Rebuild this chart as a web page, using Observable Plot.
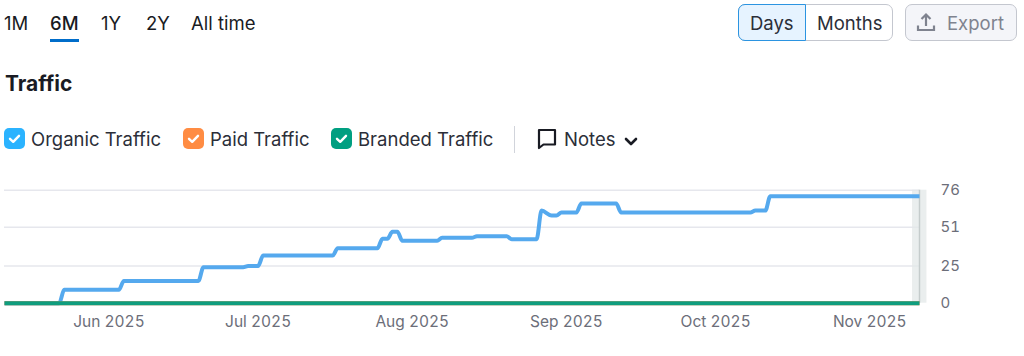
<!DOCTYPE html>
<html>
<head>
<meta charset="utf-8">
<script src="https://cdn.jsdelivr.net/npm/d3@7"></script>
<script src="https://cdn.jsdelivr.net/npm/@observablehq/plot@0.6"></script>
<style>
html,body{margin:0;padding:0;background:#fff;width:1024px;height:356px;overflow:hidden;font-family:Inter,"Noto Sans",sans-serif;color:#191b23;}
#wrap{position:relative;width:1024px;height:356px;}
.t{position:absolute;white-space:nowrap;line-height:24px;font-size:18.5px;transform:translateY(-50%);}
.box{position:absolute;box-sizing:border-box;}
.cb{position:absolute;width:21px;height:21px;top:127.5px;border-radius:5px;}
.cb svg,.ic{position:absolute;left:0;top:0;}
#chart{position:absolute;left:0;top:170px;}
#chart svg{display:block;overflow:visible;}
</style>
</head>
<body>
<div id="wrap">
  <span class="t" style="left:4px;top:22.5px">1M</span>
  <span class="t" style="left:50px;top:22.5px;font-weight:500">6M</span>
  <span class="t" style="left:101px;top:22.5px">1Y</span>
  <span class="t" style="left:146px;top:22.5px">2Y</span>
  <span class="t" style="left:191px;top:22.5px">All time</span>
  <div class="box" style="left:50px;top:39px;width:29px;height:3px;background:#006dca"></div>

  <span class="t" style="left:5px;top:83.5px;font-weight:700;font-size:21px">Traffic</span>

  <div class="cb" style="left:4px;background:#2bb3ff"><svg width="21" height="21"><path d="M6 10.8l3.2 3L15 7.8" fill="none" stroke="#fff" stroke-width="2.4" stroke-linecap="round" stroke-linejoin="round"/></svg></div>
  <span class="t" style="left:31px;top:139px;color:#2b2e38">Organic Traffic</span>
  <div class="cb" style="left:183px;background:#ff8c43"><svg width="21" height="21"><path d="M6 10.8l3.2 3L15 7.8" fill="none" stroke="#fff" stroke-width="2.4" stroke-linecap="round" stroke-linejoin="round"/></svg></div>
  <span class="t" style="left:210px;top:139px;color:#2b2e38">Paid Traffic</span>
  <div class="cb" style="left:331px;background:#009f81"><svg width="21" height="21"><path d="M6 10.8l3.2 3L15 7.8" fill="none" stroke="#fff" stroke-width="2.4" stroke-linecap="round" stroke-linejoin="round"/></svg></div>
  <span class="t" style="left:358px;top:139px;color:#2b2e38">Branded Traffic</span>
  <div class="box" style="left:514px;top:126px;width:1px;height:27px;background:#d1d4db"></div>
  <svg class="ic" style="left:537px;top:128px" width="20" height="22"><path d="M2 2h16v14.5H6.500L2 20z" fill="none" stroke="#191b23" stroke-width="2.200" stroke-linejoin="round"/></svg>
  <span class="t" style="left:564px;top:138.5px;color:#2b2e38">Notes</span>
  <svg class="ic" style="left:623px;top:135px" width="16" height="12"><path d="M3 4l5 5 5-5" fill="none" stroke="#191b23" stroke-width="2.600" stroke-linecap="round" stroke-linejoin="round"/></svg>

  <div class="box" style="left:738px;top:4px;width:155px;height:37px;border:1px solid #c4c7cf;border-radius:7px;background:#fff"></div>
  <div class="box" style="left:738px;top:4px;width:68px;height:37px;border:1px solid #2b94e1;border-radius:7px 0 0 7px;background:#e6f3ff"></div>
  <span class="t" style="left:750px;top:22.5px;color:#2b2e38">Days</span>
  <span class="t" style="left:817px;top:22.5px;color:#2b2e38">Months</span>
  <div class="box" style="left:905px;top:4px;width:112px;height:37px;border:1px solid #c4c7cf;border-radius:7px;background:#f4f5f9"></div>
  <svg class="ic" style="left:916px;top:12px" width="20" height="20"><path d="M10 14V3M5.500 7L10 2.500 14.500 7M2 13.500V18h16v-4.500" fill="none" stroke="#7f838f" stroke-width="2.200"/></svg>
  <span class="t" style="left:947px;top:22.5px;color:#7f838f">Export</span>

  <div id="chart"></div>
</div>
<script>
const organicDates = ["2025-05-11","2025-05-22","2025-05-23","2025-06-03","2025-06-04","2025-06-19","2025-06-20","2025-06-28","2025-06-29","2025-07-01","2025-07-02","2025-07-16","2025-07-17","2025-07-25","2025-07-26","2025-07-27","2025-07-28","2025-07-29","2025-07-30","2025-08-06","2025-08-07","2025-08-13","2025-08-14","2025-08-20","2025-08-21","2025-08-26","2025-08-27","2025-08-29","2025-08-30","2025-08-31","2025-09-03","2025-09-04","2025-09-11","2025-09-12","2025-10-08","2025-10-09","2025-10-11","2025-10-12","2025-11-11"];
const organicValues = [0,0,9,9,15,15,24.2,24.2,25,25,32,32,37,37,43.3,43.3,48,48,42,42,44,44,45,45,43,43,62.3,59,59,61,61,67,67,61,61,62.3,62.3,72,72];
const flatDates = ["2025-05-11","2025-11-11"];
const paidValues = [0,0];
const brandedValues = [0,0];
const yTicks = [0,25,51,76];
const xTicks = ["2025-06-01","2025-07-01","2025-08-01","2025-09-01","2025-10-01","2025-11-01"];
const cursorDate = "2025-11-11";

const parse = d3.utcParse("%Y-%m-%d");
const organic = organicDates.map((d,i)=>({date:parse(d),value:organicValues[i]}));
const paid = flatDates.map((d,i)=>({date:parse(d),value:paidValues[i]}));
const branded = flatDates.map((d,i)=>({date:parse(d),value:brandedValues[i]}));
const cursor = parse(cursorDate);
const DAY = 864e5;

const chart = Plot.plot({
  width:1024, height:186,
  marginLeft:4, marginRight:105, marginTop:19.7, marginBottom:53.3,
  style:{fontFamily:"Inter, sans-serif",background:"transparent",overflow:"visible"},
  x:{type:"utc",domain:[parse(flatDates[0]),parse(flatDates[1])]},
  y:{domain:[0,76]},
  marks:[
    Plot.ruleY(yTicks.filter(d=>d>0),{stroke:"#e6e7ed",strokeWidth:1.5}),
    Plot.rect([cursor],{x1:d=>new Date(+d-1.4*DAY),x2:d=>new Date(+d+1.5*DAY),y1:0,y2:76,fill:"#e3e8e8",fillOpacity:0.75}),
    Plot.ruleX([cursor],{y1:0,y2:76,stroke:"#c5cccc",strokeWidth:1.5}),
    Plot.line(organic,{x:"date",y:"value",stroke:"#55a9ee",strokeWidth:4,curve:"monotone-x",strokeLinejoin:"round",strokeLinecap:"butt"}),
    Plot.line(paid,{x:"date",y:"value",stroke:"#ff8c43",strokeWidth:4,strokeLinecap:"butt"}),
    Plot.line(branded,{x:"date",y:"value",stroke:"#0f9d7e",strokeWidth:4,strokeLinecap:"butt"}),
    Plot.axisX({ticks:xTicks.map(parse),tickFormat:d3.utcFormat("%b %Y"),tickSize:0,tickPadding:13,fontSize:15.5,color:"#6c6e79",anchor:"bottom",label:null}),
    Plot.axisY({ticks:yTicks,anchor:"right",tickSize:0,tickPadding:21,fontSize:15,color:"#6c6e79",textAnchor:"start",label:null,tickFormat:d=>String(d)})
  ]
});
document.getElementById("chart").appendChild(chart);
</script>
</body>
</html>
